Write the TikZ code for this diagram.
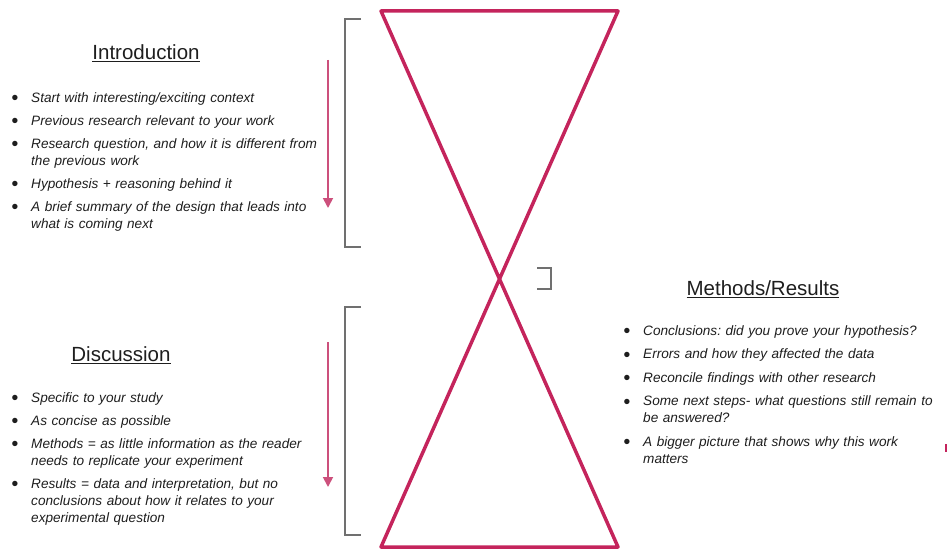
\documentclass[tikz,border=0pt]{standalone}
\usepackage{fontspec}
\setmainfont{Liberation Sans}
\usepackage{enumitem}
\usetikzlibrary{arrows.meta}
\definecolor{glass}{RGB}{196,36,92}
\definecolor{flow}{RGB}{204,80,124}
\definecolor{brk}{RGB}{112,112,112}
\definecolor{ink}{RGB}{30,30,30}
\newlist{notelist}{itemize}{1}
\setlist[notelist]{label=\raisebox{-2.4pt}{\scalebox{1.45}{\textbullet}},leftmargin=21pt,labelsep=13pt,itemsep=6pt,parsep=0pt,topsep=0pt,partopsep=0pt}

\begin{document}
\begin{tikzpicture}[x=1pt,y=-1pt,
    title/.style={font=\fontsize{20.5}{24}\selectfont,text=ink,inner sep=0pt},
    notes/.style={font=\fontsize{13.6}{17}\selectfont\itshape\frenchspacing,text=ink,inner
        sep=0pt,anchor=north west,text width=330pt,align=left}]
    \tikzstyle{bracket}=[draw=brk,line width=1.2pt]
    \tikzstyle{flowarrow}=[draw=flow,line width=1.8pt,-{Triangle[length=10pt,width=10pt]}]
    \useasboundingbox (0,0) rectangle (948,551);

    \coordinate (tl) at (381,11);
    \coordinate (tr) at (618,11);
    \coordinate (bl) at (381,547);
    \coordinate (br) at (618,547);
    \draw[glass,line width=3.5pt,line join=round] (tl) -- (tr) -- (bl) -- (br) -- cycle;

    \draw[bracket] (361,19) -- (345,19) -- (345,247) -- (361,247);
    \draw[bracket] (361,307) -- (345,307) -- (345,535) -- (361,535);
    \draw[bracket] (537,268) -- (551,268) -- (551,289) -- (537,289);

    \coordinate (ia) at (328,60);
    \coordinate (ib) at (328,208);
    \coordinate (da) at (328,342);
    \coordinate (db) at (328,487);
    \draw[flowarrow] (ia) -- (ib);
    \draw[flowarrow] (da) -- (db);

    \node[title] (intro) at (146,53) {\underline{Introduction}};
    \node[title] (meth) at (763,289) {\underline{Methods/Results}};
    \node[title] (disc) at (121,355) {\underline{Discussion}};

    \node[notes] (introlist) at (10,85) {\begin{notelist}
        \item Start with interesting/exciting context
        \item Previous research relevant to your work
        \item Research question, and how it is different from\newline the previous work
        \item Hypothesis + reasoning behind it
        \item A brief summary of the design that leads into\newline what is coming next
    \end{notelist}};

    \node[notes] (methlist) at (622,318) {\begin{notelist}[itemsep=6.5pt]
        \item Conclusions: did you prove your hypothesis?
        \item Errors and how they affected the data
        \item Reconcile findings with other research
        \item Some next steps- what questions still remain to\newline be answered?
        \item A bigger picture that shows why this work\newline matters
    \end{notelist}};

    \node[notes] (disclist) at (10,385) {\begin{notelist}
        \item Specific to your study
        \item As concise as possible
        \item Methods = as little information as the reader\newline needs to replicate your experiment
        \item Results = data and interpretation, but no\newline conclusions about how it relates to your\newline experimental question
    \end{notelist}};

    \draw[glass,line width=1.5pt] (946,444) -- (946,452);

\end{tikzpicture}
\end{document}
